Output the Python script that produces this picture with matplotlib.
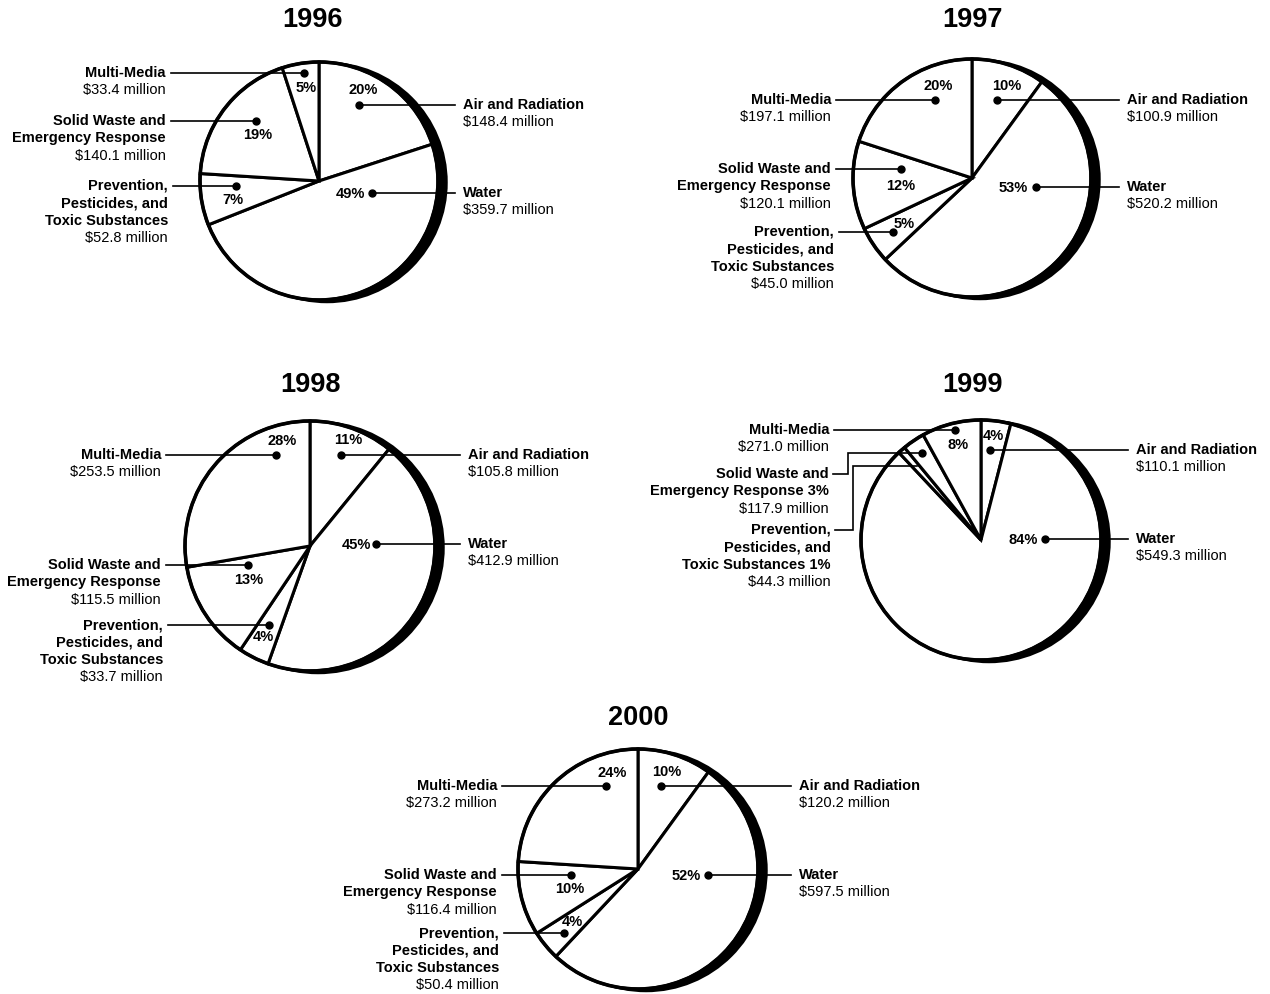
import matplotlib.pyplot as plt
from matplotlib.patches import Circle

W, H = 1270, 994
plt.rcParams['font.family'] = ['Liberation Sans', 'DejaVu Sans']

years = ['1996', '1997', '1998', '1999', '2000']

# wedge order, clockwise from 12 o'clock
programs = [
    ['Air and Radiation'],
    ['Water'],
    ['Prevention,', 'Pesticides, and', 'Toxic Substances'],
    ['Solid Waste and', 'Emergency Response'],
    ['Multi-Media'],
]

# percent of the year's budget (as printed on each wedge)
share_1996 = [20, 49, 7, 19, 5]
share_1997 = [10, 53, 5, 12, 20]
share_1998 = [11, 45, 4, 13, 28]
share_1999 = [4, 84, 1, 3, 8]
share_2000 = [10, 52, 4, 10, 24]

# dollars, millions
dollars_1996 = [148.4, 359.7, 52.8, 140.1, 33.4]
dollars_1997 = [100.9, 520.2, 45.0, 120.1, 197.1]
dollars_1998 = [105.8, 412.9, 33.7, 115.5, 253.5]
dollars_1999 = [110.1, 549.3, 44.3, 117.9, 271.0]
dollars_2000 = [120.2, 597.5, 50.4, 116.4, 273.2]

shares = [share_1996, share_1997, share_1998, share_1999, share_2000]
dollars = [dollars_1996, dollars_1997, dollars_1998, dollars_1999, dollars_2000]

# page layout in pixels (origin top-left)
# per label: side, text x, text y, dot x, dot y, pct x, pct y
layout = {
    '1996': dict(center=(319, 181), r=119, title=(313, 20), labels=[
        ('R', 463, 105, 359, 105, 363, 90),
        ('R', 463, 193, 372, 193, 350, 194),
        ('L', 168, 186, 236, 186, 233, 200),
        ('L', 166, 121, 256, 121, 258, 135),
        ('L', 166, 73, 304, 73, 306, 88),
    ]),
    '1997': dict(center=(972, 178), r=119, title=(972, 20), labels=[
        ('R', 1127, 100, 997, 100, 1007, 86),
        ('R', 1127, 187, 1036, 187, 1013, 188),
        ('L', 834, 232, 893, 232, 904, 224),
        ('L', 831, 169, 901, 169, 901, 186),
        ('L', 831, 100, 935, 100, 938, 86),
    ]),
    '1998': dict(center=(310, 546), r=125, title=(311, 385), labels=[
        ('R', 468, 455, 341, 455, 348, 440),
        ('R', 468, 544, 376, 544, 356, 545),
        ('L', 163, 625, 269, 625, 263, 637),
        ('L', 161, 565, 248, 565, 249, 580),
        ('L', 161, 455, 276, 455, 282, 441),
    ]),
    '1999': dict(center=(981, 540), r=120, title=(973, 385), labels=[
        ('R', 1136, 450, 990, 450, 993, 436),
        ('R', 1136, 539, 1045, 539, 1023, 540),
        ('L', 831, 530, None, None, None, None),
        ('L', 829, 474, 922, 453, None, None),
        ('L', 829, 430, 955, 430, 958, 445),
    ]),
    '2000': dict(center=(638, 869), r=120, title=(638, 718), labels=[
        ('R', 799, 786, 661, 786, 667, 772),
        ('R', 799, 875, 708, 875, 686, 876),
        ('L', 499, 933, 564, 933, 572, 922),
        ('L', 497, 875, 571, 875, 570, 889),
        ('L', 497, 786, 606, 786, 612, 773),
    ]),
}

# elbow leaders for the two thin 1999 wedges
elbows_1999 = {
    2: [(835, 530), (853, 530), (853, 466), (917, 466)],
    3: [(833, 474), (848, 474), (848, 453), (922, 453)],
}

LINE = 17.3
FS = 10.5


def py(y):
    return H - y


fig = plt.figure(figsize=(W / 100, H / 100), dpi=100)
ax = fig.add_axes([0, 0, 1, 1])

for year, sh, dl in zip(years, shares, dollars):
    lay = layout[year]
    cx, cy = lay['center'][0], py(lay['center'][1])
    r = lay['r']

    # dark rim on the right gives the disc some depth
    ax.add_patch(Circle((cx + 8, cy - 1.5), r, fc='black', ec='black',
                        lw=2.5, zorder=1))
    ax.pie(sh, center=(cx, cy), radius=r, startangle=90, counterclock=False,
           frame=True,
           wedgeprops=dict(fc='white', ec='black', lw=2.2, zorder=2))
    ax.add_patch(Circle((cx, cy), r, fill=False, ec='black', lw=2.6, zorder=3))

    tx, ty = lay['title']
    ax.text(tx, py(ty), year, fontsize=19.5, fontweight='bold',
            ha='center', va='center')

    for i, (side, lx, ly, dx, dy, px_, py_) in enumerate(lay['labels']):
        name = list(programs[i])
        if px_ is None:
            name[-1] = f'{name[-1]} {sh[i]}%'
        lines = [(t, 'bold') for t in name]
        lines.append((f'${dl[i]:.1f} million', 'normal'))
        ha = 'left' if side == 'R' else 'right'
        for k, (t, w) in enumerate(lines):
            ax.text(lx, py(ly + k * LINE), t, fontsize=FS, fontweight=w,
                    ha=ha, va='center', parse_math=False, zorder=5)

        if year == '1999' and i in elbows_1999:
            path = elbows_1999[i]
            xs = [p[0] for p in path]
            ys = [py(p[1]) for p in path]
            ax.plot(xs, ys, color='black', lw=1.2, zorder=4,
                    solid_joinstyle='miter')
            if dx is not None:
                ax.plot([dx], [py(dy)], 'o', color='black', ms=5, zorder=4)
        else:
            x0 = lx - 8 if side == 'R' else lx + 5
            ax.plot([x0, dx], [py(ly), py(dy)], color='black', lw=1.2,
                    zorder=4)
            ax.plot([dx], [py(dy)], 'o', color='black', ms=5, zorder=4)

        if px_ is not None:
            ax.text(px_, py(py_), f'{sh[i]}%', fontsize=FS, fontweight='bold',
                    ha='center', va='center', zorder=5)

ax.set_xlim(0, W)
ax.set_ylim(0, H)
ax.set_aspect('equal')
ax.axis('off')
fig.savefig('out.png', dpi=100, facecolor='white')
